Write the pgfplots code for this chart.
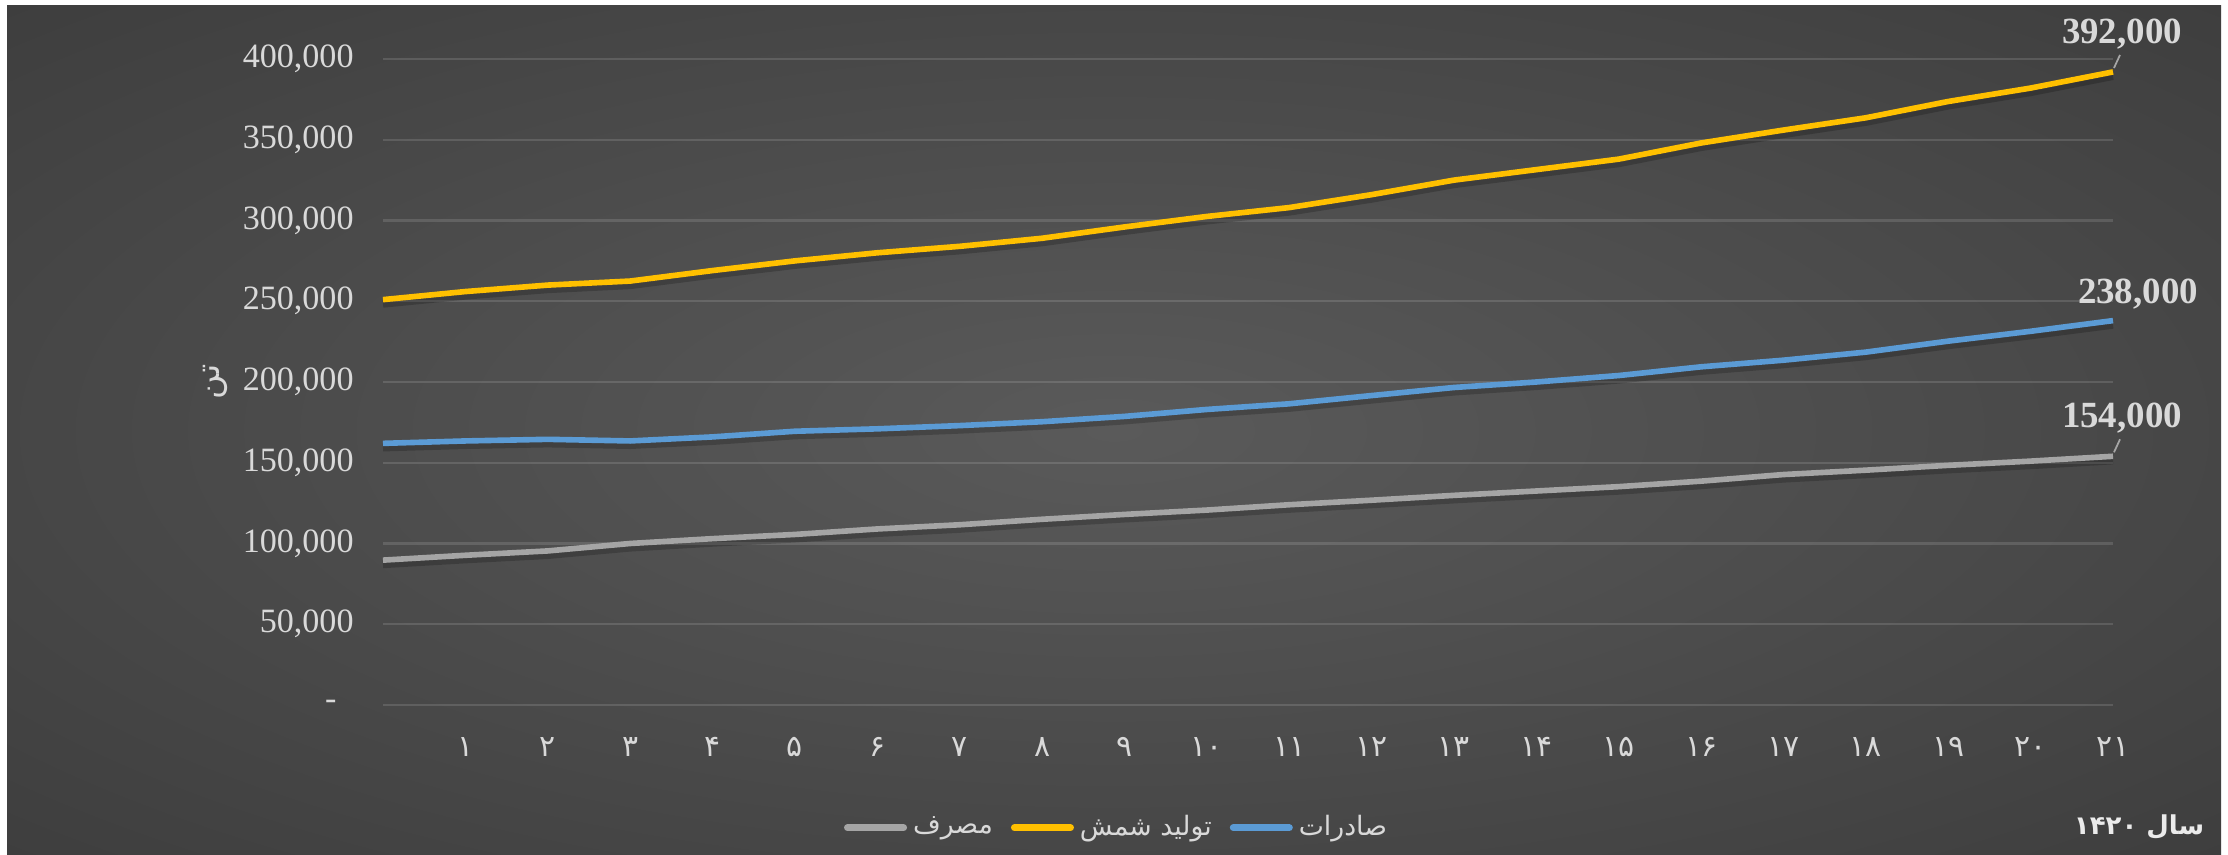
\documentclass[border=0pt]{standalone}
\usepackage{pgfplots}
\pgfplotsset{compat=1.18}
\usepackage{pgfplotstable}
\usepackage{fontspec}
\setmainfont{Liberation Serif}
\newfontfamily\fa[Script=Arabic]{DejaVu Sans}
\TeXXeTstate=1
\definecolor{bgin}{HTML}{5A5A5A}
\definecolor{bgout}{HTML}{222222}
\definecolor{txt}{HTML}{D9D9D9}
\definecolor{cgray}{HTML}{A5A5A5}
\definecolor{cyel}{HTML}{FFC000}
\definecolor{cblue}{HTML}{5B9BD5}
\pgfdeclareradialshading{chartbg}{\pgfpoint{0bp}{0bp}}{color(0bp)=(bgin); color(71bp)=(bgout)}

\pgfplotstableread{
x cons prod expo
0 89700 251000 162000
1 92700 256000 163500
2 95400 260000 164500
3 100000 262500 163500
4 103000 269000 166000
5 105600 275000 169500
6 109000 280000 171000
7 111600 284000 173000
8 115000 289000 175400
9 118000 296000 178700
10 120700 302500 183000
11 124000 308000 186500
12 126800 316000 191600
13 129800 325000 196600
14 132500 331500 200000
15 135200 338000 204000
16 138600 348000 209400
17 142700 356000 213500
18 145400 363600 218500
19 148400 373700 225300
20 151000 382000 231400
21 154000 392000 238000
}\datatable

\begin{document}
\begin{tikzpicture}
\fill[white] (0,0) rectangle (22.28cm,8.55cm);
\shade[shading=chartbg] (0.07cm,0) rectangle (22.21cm,8.49cm);
\begin{axis}[
  at={(3.83cm,1.50cm)}, anchor=south west,
  scale only axis, width=17.30cm, height=6.46cm,
  xmin=0, xmax=21, ymin=0, ymax=400000,
  clip=false,
  axis line style={draw=none},
  tick style={draw=none},
  ymajorgrids,
  major grid style={color=white, opacity=0.13, line width=0.7pt},
  ytick={0,50000,100000,150000,200000,250000,300000,350000,400000},
  yticklabels={{-\rule{1.7mm}{0pt}},{50,000},{100,000},{150,000},{200,000},{250,000},{300,000},{350,000},{400,000}},
  scaled y ticks=false,
  yticklabel style={font=\fontsize{9.7}{11}\selectfont, text=txt, xshift=-1.7mm},
  xtick={1,...,21},
  xticklabels={۱,۲,۳,۴,۵,۶,۷,۸,۹,۱۰,۱۱,۱۲,۱۳,۱۴,۱۵,۱۶,۱۷,۱۸,۱۹,۲۰,۲۱},
  xticklabel style={font=\fa\fontsize{8.5}{10}\selectfont, text=txt, yshift=-2.0mm},
  ylabel={\fa\beginR تن\endR},
  ylabel style={at={(axis description cs:-0.097,0.5)}, anchor=center, font=\fontsize{9.5}{11}\selectfont, text=txt},
  legend style={at={(axis description cs:0.424,-0.19)}, anchor=center, draw=none, fill=none,
    text=txt, font=\fa\fontsize{7.6}{9}\selectfont,
    nodes={inner xsep=0.2mm},
    /tikz/every odd column/.append style={column sep=0.4mm},
    /tikz/every even column/.append style={column sep=1.6mm}},
  legend columns=3,
  legend image code/.code={\draw[#1, line width=2pt, line cap=round] (0mm,0mm) -- (5.6mm,0mm);},
]
% shadows
\addplot[black, opacity=0.2, line width=2pt, forget plot, transform canvas={yshift=-1.3pt}] table[x=x,y=cons] {\datatable};
\addplot[black, opacity=0.2, line width=2pt, forget plot, transform canvas={yshift=-1.3pt}] table[x=x,y=prod] {\datatable};
\addplot[black, opacity=0.2, line width=2pt, forget plot, transform canvas={yshift=-1.3pt}] table[x=x,y=expo] {\datatable};
% series
\addplot[cgray, line width=1.6pt, line join=round] table[x=x,y=cons] {\datatable};
\addlegendentry{\beginR مصرف\endR}
\addplot[cyel, line width=1.6pt, line join=round] table[x=x,y=prod] {\datatable};
\addlegendentry{\beginR تولید شمش\endR}
\addplot[cblue, line width=1.6pt, line join=round] table[x=x,y=expo] {\datatable};
\addlegendentry{\beginR صادرات\endR}
% data labels
\draw[gray!70, line width=0.5pt] (axis cs:21,392000) ++(0.1mm,0.4mm) -- ++(0.6mm,1.3mm);
\draw[gray!70, line width=0.5pt] (axis cs:21,154000) ++(0.1mm,0.4mm) -- ++(0.6mm,1.3mm);
\node[font=\bfseries\fontsize{10.5}{12}\selectfont, text=txt] at (axis cs:21,392000) [xshift=0.9mm, yshift=3.8mm] {392,000};
\node[font=\bfseries\fontsize{10.5}{12}\selectfont, text=txt] at (axis cs:21,238000) [xshift=2.5mm, yshift=2.7mm] {238,000};
\node[font=\bfseries\fontsize{10.5}{12}\selectfont, text=txt] at (axis cs:21,154000) [xshift=0.9mm, yshift=3.8mm] {154,000};
\node[font=\fa\bfseries\fontsize{7.4}{10}\selectfont, text=white!92!black, anchor=east, inner sep=0pt] at (axis description cs:1.0532,-0.189) {\beginR سال ۱۴۲۰\endR};
\end{axis}
\end{tikzpicture}
\end{document}
